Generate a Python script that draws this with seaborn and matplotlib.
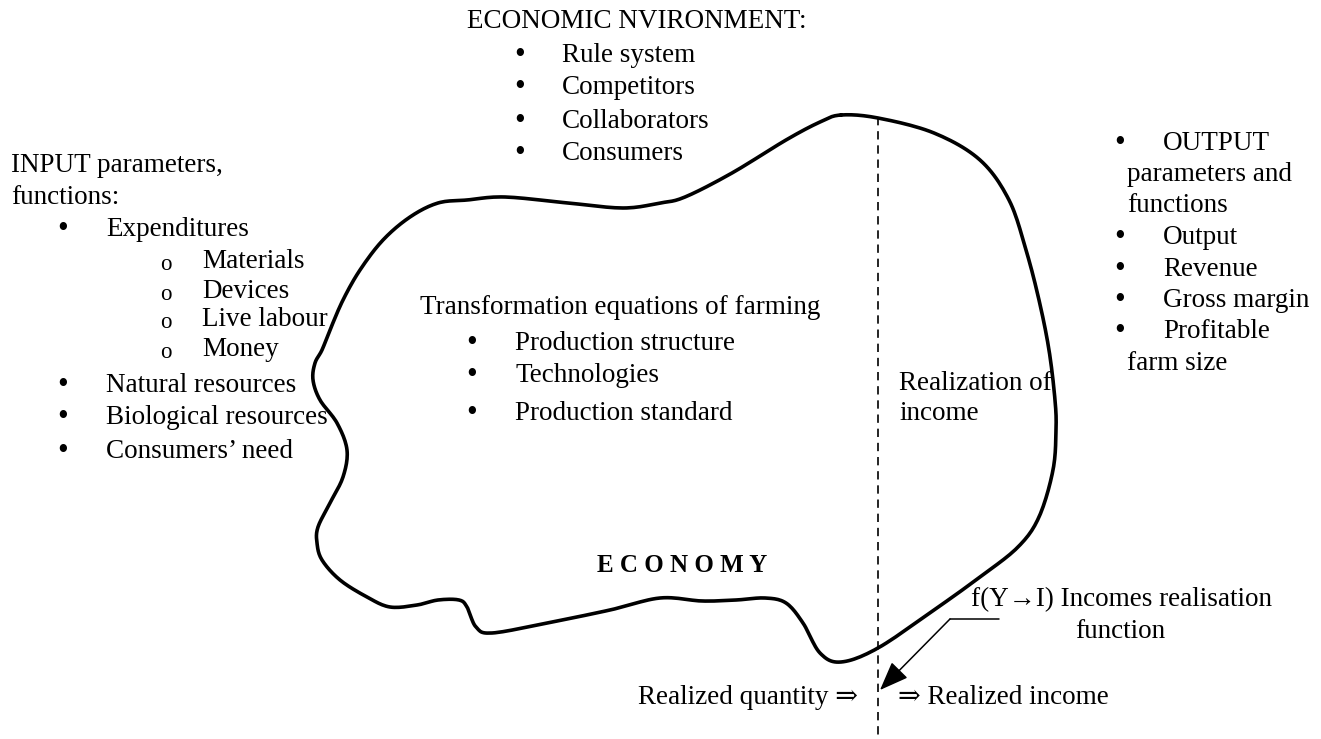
import numpy as np
import seaborn as sns
import matplotlib.pyplot as plt

# outline of the "economy" blob, traced in picture pixels (x right, y down)
blob_x = [841, 878, 934, 980, 1009, 1026, 1039, 1049, 1055, 1056, 1053, 1039, 1018, 980, 934,
          878, 841, 820, 803, 786, 765, 736, 702, 660, 610, 547, 492, 476, 467, 459, 438,
          417, 390, 367, 340, 322, 317, 318, 330, 343, 347, 337, 320, 313, 315, 322, 330,
          343, 360, 383, 410, 438, 467, 505, 568, 623, 660, 685, 732, 786, 820]
blob_y = [115, 118, 133, 160, 200, 250, 300, 350, 400, 430, 470, 517, 547, 577, 610,
          648, 662, 653, 623, 603, 598, 600, 601, 598, 610, 623, 633, 627, 607, 600, 600,
          605, 607, 597, 580, 560, 543, 527, 503, 477, 450, 423, 400, 380, 363, 350, 330,
          300, 270, 240, 217, 203, 200, 197, 203, 208, 203, 197, 173, 140, 122]

input_head = ["INPUT parameters,", "functions:"]
input_items = [("•", "Expenditures"), ("o", "Materials"), ("o", "Devices"),
               ("o", "Live labour"), ("o", "Money"), ("•", "Natural resources"),
               ("•", "Biological resources"), ("•", "Consumers\u2019 need")]
env_head = "ECONOMIC NVIRONMENT:"
env_items = ["Rule system", "Competitors", "Collaborators", "Consumers"]
trans_head = "Transformation equations of farming"
trans_items = ["Production structure", "Technologies", "Production standard"]
output_lines = [("•", "OUTPUT"), ("", "parameters and"), ("", "functions"),
                ("•", "Output"), ("•", "Revenue"), ("•", "Gross margin"),
                ("•", "Profitable"), ("", "farm size")]
realization = ["Realization of", "income"]
func_label = ["f(Y\u2192I) Incomes realisation", "function"]
left_bottom = "Realized quantity \u21d2"
right_bottom = "\u21d2 Realized income"
economy = "E C O N O M Y"


def smooth_closed(x, y, n=12):
    pts = np.column_stack([x, y]).astype(float)
    m = len(pts)
    t = np.linspace(0, 1, n, endpoint=False)[:, None]
    segs = []
    for i in range(m):
        p0, p1, p2, p3 = pts[(i - 1) % m], pts[i], pts[(i + 1) % m], pts[(i + 2) % m]
        segs.append(0.5 * (2 * p1 + (-p0 + p2) * t + (2 * p0 - 5 * p1 + 4 * p2 - p3) * t ** 2
                           + (-p0 + 3 * p1 - 3 * p2 + p3) * t ** 3))
    segs.append(pts[:1])
    return np.vstack(segs)


sns.set_theme(style='white')
plt.rcParams['font.family'] = ['Liberation Serif', 'DejaVu Serif']
plt.rcParams['text.color'] = 'black'

fig = plt.figure(figsize=(13.21, 7.39), dpi=100)
ax = fig.add_axes([0, 0, 1, 1])
ax.set_xlim(0, 1321)
ax.set_ylim(739, 0)
ax.axis('off')

fs = 19.5
bfs = 22  # bullets a bit heavier


def bullet(x, y):
    ax.text(x, y, "•", fontsize=bfs, va='center', ha='left')


# blob
sm = smooth_closed(blob_x, blob_y)
sns.lineplot(x=sm[:, 0], y=sm[:, 1], sort=False, estimator=None, color='black',
             linewidth=2.6, ax=ax)

# dashed divider
ax.plot([878, 878], [117, 739], color='black', lw=1.2, ls=(0, (5, 3.5)))

# left block
for i, s in enumerate(input_head):
    ax.text(11, 165 + i * 33, s, fontsize=fs, va='center')
ys = [229, 261, 291, 320, 349, 385, 417, 452]
for (b, s), yy in zip(input_items, ys):
    if b == "o":
        ax.text(160, yy + 3, b, fontsize=fs - 3, va='center')
        ax.text(202, yy, s, fontsize=fs, va='center')
    else:
        bullet(57, yy)
        ax.text(106, yy, s, fontsize=fs, va='center')

# top block
ax.text(467, 22, env_head, fontsize=fs, va='center')
for i, s in enumerate(env_items):
    bullet(514, 55 + i * 33)
    ax.text(562, 55 + i * 33, s, fontsize=fs, va='center')

# centre block
ax.text(420, 308, trans_head, fontsize=fs, va='center')
for s, yy in zip(trans_items, [343, 375, 413]):
    bullet(466, yy)
    ax.text(515, yy, s, fontsize=fs, va='center')
ax.text(597, 565, economy, fontsize=fs - 1.5, fontweight='bold', va='center')

# right block
for i, (b, s) in enumerate(output_lines):
    yy = 143 + i * 31.5
    if b:
        bullet(1114, yy)
        ax.text(1163, yy, s, fontsize=fs, va='center')
    else:
        ax.text(1127, yy, s, fontsize=fs, va='center')

ax.text(899, 383, realization[0], fontsize=fs, va='center')
ax.text(899, 413, realization[1], fontsize=fs, va='center')

ax.text(971, 600, func_label[0], fontsize=fs, va='center')
ax.text(1075, 632, func_label[1], fontsize=fs, va='center')
ax.plot([999, 950], [619, 619], color='black', lw=1.1)
ax.annotate('', xy=(880, 690), xytext=(950, 619),
            arrowprops=dict(arrowstyle='-|>,head_length=0.9,head_width=0.35',
                            mutation_scale=20, color='black', lw=1.1,
                            shrinkA=0, shrinkB=0))

ax.text(858, 697, left_bottom, fontsize=fs, va='center', ha='right')
ax.text(898, 697, right_bottom, fontsize=fs, va='center')

fig.savefig('out.png', dpi=100, facecolor='white')
